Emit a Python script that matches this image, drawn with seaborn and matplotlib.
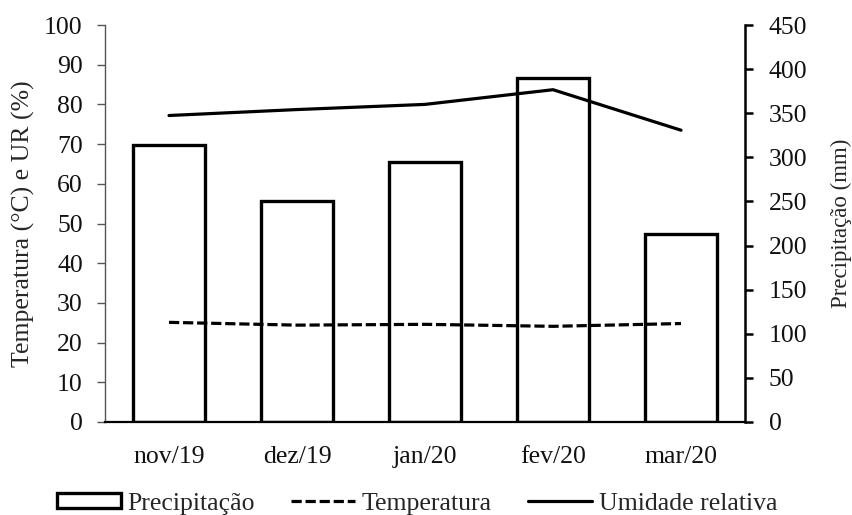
import matplotlib
matplotlib.use("Agg")
import matplotlib.pyplot as plt
import seaborn as sns
import pandas as pd
from matplotlib.patches import Patch
from matplotlib.lines import Line2D

# Monthly climate data
meses = ["nov/19", "dez/19", "jan/20", "fev/20", "mar/20"]
precipitacao = [314, 250, 295, 390, 213]          # mm
temperatura = [25.1, 24.4, 24.6, 24.1, 24.8]      # °C
umidade = [77.2, 78.7, 80.0, 83.7, 73.5]          # %

sns.set_theme(style="white")
plt.rcParams["font.family"] = ["Liberation Serif", "DejaVu Serif"]
FS = 18.5
DASH = (3.2, 1.2)

df = pd.DataFrame({"mes": meses, "prec": precipitacao,
                   "temp": temperatura, "ur": umidade})

fig, ax = plt.subplots(figsize=(8.53, 5.15), dpi=100)
fig.subplots_adjust(left=105 / 853, right=745 / 853, top=1 - 25 / 515,
                    bottom=1 - 422 / 515)
ax2 = ax.twinx()

# Precipitation bars on the right axis
sns.barplot(data=df, x="mes", y="prec", ax=ax2, color="white",
            edgecolor="black", linewidth=2.4, width=0.56, saturation=1)

# Temperature and relative humidity lines on the left axis
sns.lineplot(data=df, x="mes", y="temp", ax=ax, color="black",
             linewidth=2.3, dashes=False)
sns.lineplot(data=df, x="mes", y="ur", ax=ax, color="black", linewidth=2.3)
ax.lines[0].set_dashes(DASH)

ax.set_zorder(ax2.get_zorder() + 1)
ax.patch.set_visible(False)

ax.set_xlim(-0.5, 4.5)
ax.set_ylim(0, 100)
ax.set_yticks(range(0, 101, 10))
ax2.set_ylim(0, 450)
ax2.set_yticks(range(0, 451, 50))

ax.set_xlabel("")
ax2.set_xlabel("")
ax.set_ylabel("Temperatura (°C) e UR (%)", fontsize=18.5)
ax2.set_ylabel("Precipitação (mm)", fontsize=16.5)
ax.yaxis.set_label_coords(-(105 - 35) / 640, 0.5)
ax2.yaxis.set_label_coords(1 + (831 - 745) / 640, 0.5)

for a in (ax, ax2):
    a.spines["top"].set_visible(False)
    a.tick_params(axis="x", length=0, labelsize=FS, pad=17, colors="black")
    a.grid(False)

ax.spines["right"].set_visible(False)
ax.spines["left"].set_color("#555555")
ax.spines["left"].set_linewidth(1.0)
ax.spines["bottom"].set_color("black")
ax.spines["bottom"].set_linewidth(1.6)
ax.tick_params(axis="y", direction="out", length=6, width=1.0,
               color="#555555", labelsize=FS, pad=10, left=True)

ax2.spines["left"].set_visible(False)
ax2.spines["bottom"].set_visible(False)
ax2.spines["right"].set_color("black")
ax2.spines["right"].set_linewidth(1.8)
ax2.tick_params(axis="y", direction="out", length=6, width=1.8,
                color="black", labelsize=FS, pad=11, right=True)

for a in (ax, ax2):
    for t in a.get_yticklabels() + a.get_xticklabels():
        t.set_color("#111111")

handles = [
    Patch(facecolor="white", edgecolor="black", linewidth=2.4),
    Line2D([], [], color="black", linewidth=2.3, dashes=DASH),
    Line2D([], [], color="black", linewidth=2.3),
]
labels = ["Precipitação", "Temperatura", "Umidade relativa"]
fig.legend(handles, labels, loc="center", bbox_to_anchor=(0.489, 0.022),
           ncol=3, frameon=False, fontsize=FS, handlelength=2.5,
           handleheight=0.5, handletextpad=0.25, columnspacing=1.4,
           borderaxespad=0, borderpad=0)

fig.savefig("out.png", dpi=100)
